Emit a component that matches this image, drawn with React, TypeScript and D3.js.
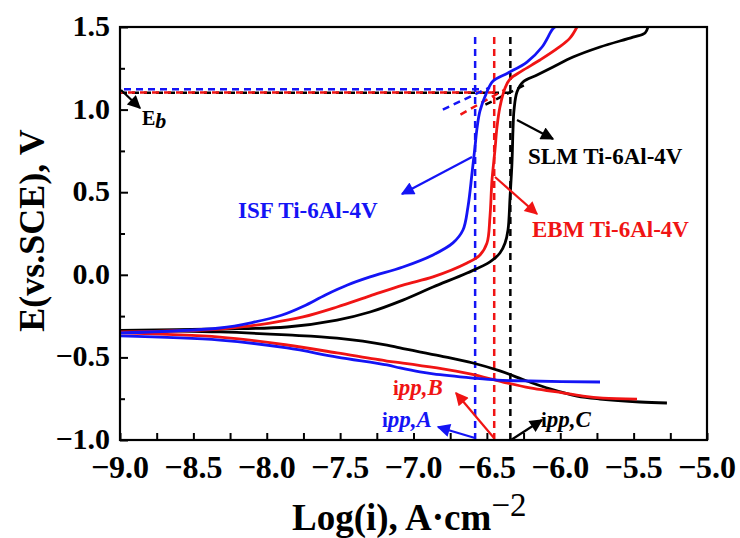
import React, { useEffect, useRef } from 'react';
import * as d3 from 'd3';

// Tafel curves: [log(i), E]
const slmCathodic: [number, number][] = [
  [-5.273, -0.776], [-5.457, -0.77], [-5.729, -0.752], [-5.886, -0.734], [-6.07, -0.691],
  [-6.227, -0.643], [-6.411, -0.582], [-6.595, -0.534], [-6.819, -0.491], [-7.092, -0.443],
  [-7.181, -0.425], [-7.521, -0.383], [-7.862, -0.364], [-8.319, -0.346], [-9.0, -0.336],
];
const slmAnodic: [number, number][] = [
  [-9.0, -0.336], [-8.319, -0.328], [-7.862, -0.316], [-7.521, -0.274], [-7.296, -0.225],
  [-7.072, -0.153], [-6.867, -0.074], [-6.635, 0.011], [-6.479, 0.078], [-6.411, 0.132],
  [-6.376, 0.193], [-6.356, 0.271], [-6.342, 0.471], [-6.329, 0.677], [-6.322, 0.877],
  [-6.315, 0.998], [-6.295, 1.107], [-6.254, 1.167], [-6.158, 1.209], [-6.049, 1.258],
  [-5.913, 1.318], [-5.729, 1.379], [-5.504, 1.439], [-5.422, 1.464], [-5.402, 1.5],
];
const ebmCathodic: [number, number][] = [
  [-5.477, -0.752], [-5.709, -0.746], [-5.845, -0.734], [-6.022, -0.709], [-6.206, -0.685],
  [-6.39, -0.649], [-6.615, -0.6], [-6.84, -0.564], [-7.072, -0.534], [-7.181, -0.522],
  [-7.521, -0.473], [-7.862, -0.425], [-8.319, -0.377], [-9.0, -0.352],
];
const ebmAnodic: [number, number][] = [
  [-9.0, -0.346], [-8.319, -0.328], [-7.978, -0.292], [-7.753, -0.255], [-7.521, -0.195],
  [-7.296, -0.128], [-7.072, -0.062], [-6.867, -0.013], [-6.635, 0.071], [-6.547, 0.12],
  [-6.499, 0.193], [-6.479, 0.35], [-6.465, 0.574], [-6.445, 0.755], [-6.431, 0.895],
  [-6.411, 1.016], [-6.376, 1.131], [-6.342, 1.185], [-6.261, 1.234], [-6.138, 1.3],
  [-6.015, 1.373], [-5.934, 1.433], [-5.886, 1.5],
];
const isfCathodic: [number, number][] = [
  [-5.729, -0.649], [-6.206, -0.643], [-6.431, -0.637], [-6.595, -0.625], [-6.867, -0.6],
  [-6.956, -0.588], [-7.092, -0.564], [-7.181, -0.546], [-7.521, -0.498], [-7.862, -0.443],
  [-8.319, -0.395], [-9.0, -0.37],
];
const isfAnodic: [number, number][] = [
  [-9.0, -0.352], [-8.319, -0.322], [-8.094, -0.288], [-7.9, -0.245], [-7.75, -0.19],
  [-7.6, -0.122], [-7.45, -0.062], [-7.296, -0.013], [-7.072, 0.047], [-6.867, 0.12],
  [-6.731, 0.193], [-6.663, 0.271], [-6.629, 0.41], [-6.601, 0.616], [-6.581, 0.774],
  [-6.567, 0.889], [-6.547, 0.992], [-6.506, 1.094], [-6.458, 1.173], [-6.356, 1.222],
  [-6.227, 1.288], [-6.124, 1.379], [-6.056, 1.482], [-6.036, 1.5],
];

// passivation current density (vertical dashed) and breakdown potential (horizontal dashed)
const ippValues = { ISF: -6.58, EBM: -6.45, SLM: -6.34 };
const ebValues = { ISF: 1.123, EBM: 1.104, SLM: 1.102 };
const ebEnds = { ISF: -6.55, EBM: -6.42, SLM: -6.33 };
// tangent extrapolation segments
const tangents: Record<string, [number, number][]> = {
  ISF: [[-6.8, 1.0], [-6.48, 1.135]],
  EBM: [[-6.68, 0.97], [-6.38, 1.12]],
  SLM: [[-6.51, 1.03], [-6.24, 1.15]],
};

const xTicks = [-9.0, -8.5, -8.0, -7.5, -7.0, -6.5, -6.0, -5.5, -5.0];
const yTicks = [-1.0, -0.5, 0.0, 0.5, 1.0, 1.5];

const BLUE = '#1414f5';
const RED = '#f01414';
const BLACK = '#000000';
const FONT = '"Liberation Serif", "Times New Roman", serif';

const App = () => {
  const svgRef = useRef<SVGSVGElement>(null);

  useEffect(() => {
    const width = 740;
    const height = 538;
    const margin = { top: 27, right: 33, bottom: 98, left: 120 };

    const svg = d3.select(svgRef.current).attr('width', width).attr('height', height);
    svg.selectAll('*').remove();

    const x = d3.scaleLinear().domain([-9, -5]).range([margin.left, width - margin.right]);
    const y = d3.scaleLinear().domain([-1, 1.5]).range([height - margin.bottom, margin.top]);

    const defs = svg.append('defs');
    defs.append('clipPath').attr('id', 'plot-clip')
      .append('rect')
      .attr('x', margin.left).attr('y', margin.top)
      .attr('width', x(-5) - x(-9)).attr('height', y(-1) - y(1.5));

    [['blue', BLUE], ['red', RED], ['black', BLACK]].forEach(([name, col]) => {
      defs.append('marker')
        .attr('id', `arrow-${name}`)
        .attr('viewBox', '0 0 10 10')
        .attr('refX', 9).attr('refY', 5)
        .attr('markerWidth', 7).attr('markerHeight', 6)
        .attr('markerUnits', 'strokeWidth')
        .attr('orient', 'auto')
        .append('path')
        .attr('d', 'M0,0 L10,5 L0,10 Z')
        .attr('fill', col);
    });

    const plot = svg.append('g').attr('clip-path', 'url(#plot-clip)');

    const line = d3.line<[number, number]>()
      .x(d => x(d[0]))
      .y(d => y(d[1]))
      .curve(d3.curveCatmullRom.alpha(0.5));

    // dashed guide lines
    const dashedSets = [
      { key: 'SLM', col: BLACK, off: 0 },
      { key: 'EBM', col: RED, off: 4 },
      { key: 'ISF', col: BLUE, off: 8 },
    ];
    dashedSets.forEach(s => {
      plot.append('line')
        .attr('x1', x(ippValues[s.key])).attr('x2', x(ippValues[s.key]))
        .attr('y1', y(1.44)).attr('y2', y(-1))
        .attr('stroke', s.col).attr('stroke-width', 2.5)
        .attr('stroke-dasharray', '7,5');
      plot.append('line')
        .attr('x1', x(-9)).attr('x2', x(ebEnds[s.key]))
        .attr('y1', y(ebValues[s.key])).attr('y2', y(ebValues[s.key]))
        .attr('stroke', s.col).attr('stroke-width', 2.5)
        .attr('stroke-dasharray', '7,5')
        .attr('stroke-dashoffset', s.off);
      plot.append('path')
        .attr('d', d3.line()(tangents[s.key].map(d => [x(d[0]), y(d[1])])))
        .attr('fill', 'none')
        .attr('stroke', s.col).attr('stroke-width', 2.5)
        .attr('stroke-dasharray', '7,5');
    });

    // polarization curves
    const curves = [
      { data: slmCathodic, col: BLACK }, { data: slmAnodic, col: BLACK },
      { data: ebmCathodic, col: RED }, { data: ebmAnodic, col: RED },
      { data: isfCathodic, col: BLUE }, { data: isfAnodic, col: BLUE },
    ];
    curves.forEach(c => {
      plot.append('path')
        .attr('d', line(c.data))
        .attr('fill', 'none')
        .attr('stroke', c.col)
        .attr('stroke-width', 2.8)
        .attr('stroke-linejoin', 'round');
    });

    // frame
    svg.append('rect')
      .attr('x', margin.left).attr('y', margin.top)
      .attr('width', x(-5) - x(-9)).attr('height', y(-1) - y(1.5))
      .attr('fill', 'none').attr('stroke', '#000').attr('stroke-width', 2.2);

    // axes with inward ticks
    const xAxis = svg.append('g').attr('transform', `translate(0,${y(-1)})`);
    xAxis.call(d3.axisTop(x).tickValues(d3.range(-9, -4.99, 0.25)).tickSize(7).tickFormat(() => ''));
    xAxis.selectAll('.domain').remove();
    xAxis.selectAll('line').attr('stroke-width', 2);

    const yAxis = svg.append('g').attr('transform', `translate(${x(-9)},0)`);
    yAxis.call(d3.axisRight(y).tickValues(d3.range(-1, 1.51, 0.25)).tickSize(5).tickFormat(() => ''));
    yAxis.selectAll('.domain').remove();
    yAxis.selectAll('line').attr('stroke-width', 2)
      .attr('x2', (_d, i) => (i % 2 === 0 ? 8 : 5));

    const fmt = d3.format('.1f');
    svg.append('g').selectAll('text')
      .data(xTicks).join('text')
      .attr('x', d => x(d))
      .attr('y', 478)
      .attr('text-anchor', 'middle')
      .attr('font-family', FONT).attr('font-weight', 'bold').attr('font-size', 32)
      .text(d => fmt(d));

    svg.append('g').selectAll('text')
      .data(yTicks).join('text')
      .attr('x', 110)
      .attr('y', d => y(d) + 9)
      .attr('text-anchor', 'end')
      .attr('font-family', FONT).attr('font-weight', 'bold').attr('font-size', 30)
      .text(d => fmt(d));

    // axis titles
    const xt = svg.append('text')
      .attr('x', 292).attr('y', 530)
      .attr('font-family', FONT).attr('font-weight', 'bold').attr('font-size', 37);
    xt.append('tspan').text('Log(i), A·cm');
    xt.append('tspan').attr('dy', -14).attr('font-weight', 'normal').attr('font-size', 33).text('−2');

    svg.append('text')
      .attr('transform', `translate(44,${(y(1.5) + y(-1)) / 2 - 3}) rotate(-90)`)
      .attr('text-anchor', 'middle')
      .attr('font-family', FONT).attr('font-weight', 'bold').attr('font-size', 36)
      .text('E(vs.SCE), V');

    // annotations
    const arrow = (x1: number, y1: number, x2: number, y2: number, col: string, name: string) => {
      svg.append('line')
        .attr('x1', x1).attr('y1', y1).attr('x2', x2).attr('y2', y2)
        .attr('stroke', col).attr('stroke-width', 2.2)
        .attr('marker-end', `url(#arrow-${name})`);
    };

    const label = (tx: number, ty: number, txt: string, col: string) => {
      svg.append('text')
        .attr('x', tx).attr('y', ty)
        .attr('font-family', FONT).attr('font-weight', 'bold').attr('font-size', 23)
        .attr('fill', col)
        .text(txt);
    };

    arrow(472, 157, 402, 194, BLUE, 'blue');
    label(238, 218, 'ISF Ti-6Al-4V', BLUE);
    arrow(517, 120, 553, 139, BLACK, 'black');
    label(528, 164, 'SLM Ti-6Al-4V', BLACK);
    arrow(495, 177, 537, 214, RED, 'red');
    label(532, 237, 'EBM Ti-6Al-4V', RED);

    const ipp = (tx: number, ty: number, sub: string, col: string) => {
      const t = svg.append('text')
        .attr('x', tx).attr('y', ty)
        .attr('font-family', FONT).attr('font-weight', 'bold').attr('font-size', 23)
        .attr('fill', col);
      t.append('tspan').attr('font-size', 21).text('i');
      t.append('tspan').attr('font-style', 'italic').text(`pp,${sub}`);
    };
    arrow(494, 438, 456, 393, RED, 'red');
    ipp(393, 395, 'B', RED);
    arrow(475, 438, 438, 427, BLUE, 'blue');
    ipp(382, 427, 'A', BLUE);
    arrow(511, 440, 542, 420, BLACK, 'black');
    ipp(541, 427, 'C', BLACK);

    // E_b
    arrow(121, 90, 140, 108, BLACK, 'black');
    const eb = svg.append('text')
      .attr('x', 142).attr('y', 125)
      .attr('font-family', FONT).attr('font-size', 20);
    eb.append('tspan').attr('font-weight', 'bold').text('E');
    eb.append('tspan').attr('dy', 3).attr('font-style', 'italic').attr('font-weight', 'bold').attr('font-size', 22).text('b');

    return () => {
      svg.selectAll('*').remove();
    };
  }, []);

  return (
    <div style={{ position: 'absolute', left: 0, top: 0, width: 740, height: 538, background: '#fff' }}>
      <svg ref={svgRef} />
    </div>
  );
};

export default App;
